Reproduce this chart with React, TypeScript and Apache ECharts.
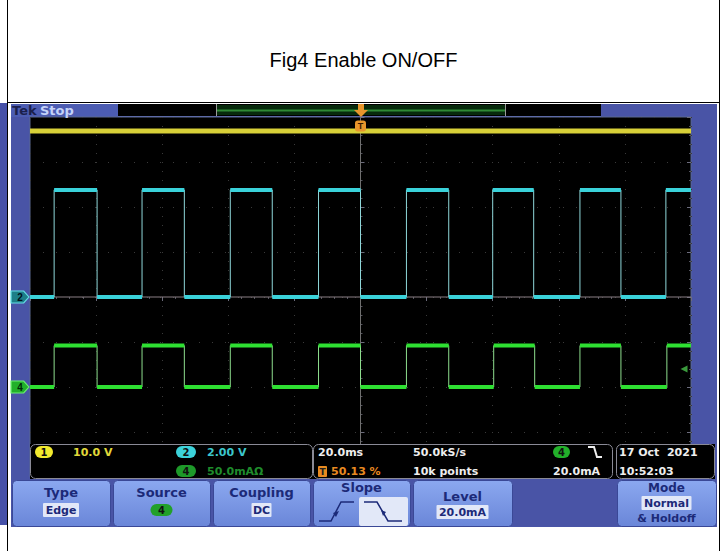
import React, { useEffect, useRef } from "react";
import * as echarts from "echarts";

// ---------------- data ----------------
const TIME_RANGE_MS = [-100, 100]; // 20.0 ms/div, 10 divisions, trigger at centre
const DIV_RANGE = [-4, 4]; // 8 vertical divisions

const CH1_LEVEL_V = [36.9];
const CH2_EDGES_MS = [-92.7, -79.7, -66.1, -53.3, -39.4, -26.7, -12.7, 0.0, 13.9, 26.7, 40.0, 52.4, 66.4, 78.8, 92.4];
const CH2_LEVELS_V = [0.0, 4.76]; // low, high
const CH4_EDGES_MS = [-92.7, -79.7, -66.1, -53.3, -39.4, -26.7, -12.7, 0.0, 13.9, 26.7, 40.3, 52.7, 66.4, 78.8, 92.7];
const CH4_LEVELS_MA = [0.0, 46.0]; // low, high

const CH_SCALE_PER_DIV = [10, 2, 50]; // CH1 V, CH2 V, CH4 mA
const CH_POSITION_DIV = [0, 0, -2];
const TRIGGER_LEVEL_MA = [20];

const READOUT_LABELS = ["10.0 V", "2.00 V", "50.0mAΩ", "20.0ms", "50.13 %", "50.0kS/s", "10k points", "20.0mA", "17 Oct  2021", "10:52:03"];
const BUTTON_LABELS = ["Type", "Source", "Coupling", "Slope", "Level", "Mode"];
const BUTTON_VALUES = ["Edge", "4", "DC", "", "20.0mA", "Normal"];

// ---------------- helpers ----------------
const toDiv = (ch: number) => (v: number) => v / CH_SCALE_PER_DIV[ch] + CH_POSITION_DIV[ch];

function stepTrace(edges: number[], levels: number[], conv: (v: number) => number) {
  const [t0, t1] = TIME_RANGE_MS;
  let s = 0;
  const pts: any[] = [[t0, conv(levels[s])]];
  edges.forEach((e) => {
    pts.push([e, conv(levels[s])]);
    s = 1 - s;
    pts.push([e, conv(levels[s])]);
  });
  pts.push([t1, conv(levels[s])]);
  return pts;
}

function levelSegments(edges: number[], levels: number[], conv: (v: number) => number) {
  const [t0, t1] = TIME_RANGE_MS;
  const b = [t0, ...edges, t1];
  const pts: any[] = [];
  for (let i = 0; i < b.length - 1; i++) {
    const v = conv(levels[i % 2]);
    pts.push([b[i], v], [b[i + 1], v]);
    if (i < b.length - 2) pts.push([b[i + 1], "-"]);
  }
  return pts;
}

const FONT = '"DejaVu Sans", Verdana, sans-serif';

function txt(x: number, y: number, text: string, fill: string, size = 11, align = "left", weight = "bold", z = 120) {
  return {
    type: "text",
    x,
    y,
    z,
    style: {
      text,
      fill,
      font: `${weight} ${size}px ${FONT}`,
      align,
      verticalAlign: "middle",
      textAlign: align,
      textVerticalAlign: "middle",
    },
  };
}

function rect(x: number, y: number, w: number, h: number, fill: any, z = 100, r = 0, stroke?: string) {
  return {
    type: "rect",
    z,
    shape: { x, y, width: w, height: h, r },
    style: stroke ? { fill, stroke, lineWidth: 1 } : { fill },
  };
}

function pill(x: number, y: number, w: number, h: number, fill: string, label: string, color = "#111") {
  return [rect(x, y, w, h, fill, 115, h / 2), txt(x + w / 2, y + h / 2 + 0.5, label, color, 10, "center")];
}

function line(x1: number, y1: number, x2: number, y2: number, stroke: string, z = 130, w = 1) {
  return { type: "line", z, shape: { x1, y1, x2, y2 }, style: { stroke, lineWidth: w } };
}

export default function App() {
  const ref = useRef<HTMLDivElement>(null);

  useEffect(() => {
    document.body.style.margin = "0";
    if (!ref.current) return;
    const chart = echarts.init(ref.current, undefined, { renderer: "svg" });

    const c1 = toDiv(0);
    const c2 = toDiv(1);
    const c4 = toDiv(2);
    const [t0, t1] = TIME_RANGE_MS;

    const BLUE = "#4954a6";
    const btnFill = {
      type: "linear",
      x: 0,
      y: 0,
      x2: 0,
      y2: 1,
      colorStops: [
        { offset: 0, color: "#8ba8f0" },
        { offset: 1, color: "#6a86d8" },
      ],
    };
    const NAVY = "#1c2a78";
    const HILITE = "#e2e8f8";

    const buttons = [
      { x: 12, w: 98 },
      { x: 113, w: 97 },
      { x: 213, w: 97 },
      { x: 313, w: 97 },
      { x: 413, w: 99 },
      { x: 617, w: 99 },
    ];

    const graphic: any[] = [
      // table lines
      line(7.5, 0, 7.5, 551, "#000", 200),
      line(719.5, 0, 719.5, 551, "#000", 200),
      line(7.5, 102.5, 719.5, 102.5, "#000", 200),
      // neighbouring image strip at left
      rect(0, 103, 7, 422, "#4651a8", -100),
      // scope background
      rect(11, 104, 706, 423, BLUE, -100),
      // top bar
      rect(11, 104, 107, 13, "#4c5cb2", -90),
      txt(12, 110.5, "Tek", "#1a1f4c", 13, "left", "bold", 130),
      txt(40, 110.5, "Stop", "#c4d2f8", 13, "left", "bold", 130),
      rect(118, 104, 483, 12, "#000", 100),
      rect(216, 105, 289, 10, "#072a0c", 101),
      line(216, 110.5, 505, 110.5, "#2f8a34", 102, 2),
      line(216.5, 104, 216.5, 117, "#9a9a9a", 103),
      line(505.5, 104, 505.5, 117, "#9a9a9a", 103),
      line(118, 116.5, 601, 116.5, "#5d6aa8", 103),
      rect(358, 104, 6, 6, "#e8962c", 104),
      { type: "polygon", z: 104, shape: { points: [[354, 110], [368, 110], [361, 117]] }, style: { fill: "#e8962c" } },
      // readout area
      rect(30, 444, 685, 35, "#000", 100),
      rect(30.5, 444.5, 282, 34, "#000", 101, 5, "#8a8a96"),
      rect(313.5, 444.5, 299, 34, "#000", 101, 5, "#8a8a96"),
      rect(616.5, 444.5, 98, 34, "#000", 101, 5, "#8a8a96"),
      ...pill(35, 446, 18, 12, "#f2ea2e", "1"),
      txt(73, 452.5, READOUT_LABELS[0], "#e0d83a"),
      ...pill(176, 446, 20, 12, "#3cd2da", "2"),
      txt(207, 452.5, READOUT_LABELS[1], "#3cc6cc"),
      ...pill(176, 465, 20, 12, "#1e9a2a", "4"),
      txt(207, 471.5, READOUT_LABELS[2], "#1f8c2c"),
      txt(318, 452.5, READOUT_LABELS[3], "#eeeeee"),
      rect(318, 466, 9, 11, "#e88a20", 115, 1),
      txt(322.5, 471.5, "T", "#222", 9, "center"),
      txt(331, 471.5, READOUT_LABELS[4], "#e88a20"),
      txt(413, 452.5, READOUT_LABELS[5], "#eeeeee"),
      txt(413, 471.5, READOUT_LABELS[6], "#eeeeee"),
      ...pill(553, 446, 17, 12, "#22b02a", "4"),
      { type: "polyline", z: 130, shape: { points: [[588, 447], [594, 447], [597, 457], [602, 457]] }, style: { stroke: "#eeeeee", lineWidth: 2, fill: "none" } },
      txt(553, 471.5, READOUT_LABELS[7], "#eeeeee"),
      txt(619, 452.5, READOUT_LABELS[8], "#eeeeee"),
      txt(619, 471.5, READOUT_LABELS[9], "#eeeeee"),
    ];

    // buttons
    buttons.forEach((b, i) => {
      graphic.push(rect(b.x + 0.5, 480.5, b.w, 46, btnFill, 100, 4, "#3a4896"));
      const cx = b.x + b.w / 2;
      if (i === 0 || i === 2) {
        graphic.push(txt(cx, 492, BUTTON_LABELS[i], NAVY, 13, "center"));
        const vw = BUTTON_VALUES[i].length * 8 + 4;
        graphic.push(rect(cx - vw / 2, 503, vw, 14, HILITE, 110, 1));
        graphic.push(txt(cx, 510.5, BUTTON_VALUES[i], NAVY, 11, "center"));
      } else if (i === 1) {
        graphic.push(txt(cx, 492, BUTTON_LABELS[i], NAVY, 13, "center"));
        graphic.push(...pill(cx - 11, 504, 22, 12, "#22a02a", BUTTON_VALUES[i]));
      } else if (i === 3) {
        graphic.push(txt(cx, 487, BUTTON_LABELS[i], NAVY, 13, "center"));
        graphic.push({ type: "polyline", z: 120, shape: { points: [[319, 521], [331, 521], [341, 502], [354, 502]] }, style: { stroke: NAVY, lineWidth: 1.5, fill: "none" } });
        graphic.push({ type: "polygon", z: 121, shape: { points: [[333, 513], [339, 511], [336, 517]] }, style: { fill: NAVY } });
        graphic.push(rect(359, 497, 49, 29, HILITE, 110, 2));
        graphic.push({ type: "polyline", z: 120, shape: { points: [[364, 502], [377, 502], [388, 521], [402, 521]] }, style: { stroke: NAVY, lineWidth: 1.5, fill: "none" } });
        graphic.push({ type: "polygon", z: 121, shape: { points: [[381, 510], [386, 512], [383, 516]] }, style: { fill: NAVY } });
      } else if (i === 4) {
        graphic.push(txt(cx, 496, BUTTON_LABELS[i], NAVY, 13, "center"));
        graphic.push(rect(cx - 26, 505, 52, 14, HILITE, 110, 1));
        graphic.push(txt(cx, 512.5, BUTTON_VALUES[i], NAVY, 11, "center"));
      } else {
        graphic.push(txt(cx, 488, BUTTON_LABELS[i], NAVY, 12, "center"));
        graphic.push(rect(cx - 25, 496, 50, 14, HILITE, 110, 1));
        graphic.push(txt(cx, 503.5, BUTTON_VALUES[i], NAVY, 11, "center"));
        graphic.push(txt(cx, 518.5, "& Holdoff", NAVY, 11, "center"));
      }
    });

    const axisCommon = {
      type: "value",
      axisLabel: { show: false },
      axisLine: { show: false },
      axisTick: { show: true, inside: true, length: 4, lineStyle: { color: "#6c6c7c" } },
      minorTick: { show: true, splitNumber: 5, length: 2, lineStyle: { color: "#55555f" } },
    };

    const option: any = {
      animation: false,
      backgroundColor: "#fff",
      title: {
        text: "Fig4 Enable ON/OFF",
        left: "center",
        top: 45,
        textStyle: { fontFamily: '"Liberation Sans", Arial, sans-serif', fontSize: 20, fontWeight: "normal", color: "#000" },
      },
      grid: { left: 30, top: 117, width: 661, height: 360, show: true, backgroundColor: "#000", borderColor: "#5b6890", borderWidth: 1 },
      xAxis: {
        ...axisCommon,
        min: TIME_RANGE_MS[0],
        max: TIME_RANGE_MS[1],
        interval: 20,
        position: "top",
        splitLine: { show: true, lineStyle: { color: "#3a3a3a", type: [1, 8] } },
      },
      yAxis: [
        {
          ...axisCommon,
          min: DIV_RANGE[0],
          max: DIV_RANGE[1],
          interval: 1,
          position: "left",
          splitLine: { show: true, lineStyle: { color: "#3a3a3a", type: [1, 12] } },
        },
        {
          ...axisCommon,
          min: DIV_RANGE[0],
          max: DIV_RANGE[1],
          interval: 1,
          position: "right",
          splitLine: { show: false },
        },
      ],
      series: [
        {
          type: "line",
          data: [[t0, 0], [t1, 0]],
          symbol: "none",
          silent: true,
          lineStyle: { color: "#8a7f84", width: 1 },
          z: 1,
        },
        {
          type: "line",
          data: [[0, DIV_RANGE[0]], [0, DIV_RANGE[1]]],
          symbol: "none",
          silent: true,
          lineStyle: { color: "#6f6f6f", width: 1 },
          z: 1,
        },
        {
          type: "line",
          data: [[t0, c1(CH1_LEVEL_V[0])], [t1, c1(CH1_LEVEL_V[0])]],
          symbol: "none",
          lineStyle: { color: "#d8d038", width: 5 },
          z: 3,
          markPoint: {
            silent: true,
            data: [
              {
                coord: [0, DIV_RANGE[1]],
                symbol: "roundRect",
                symbolSize: [11, 11],
                symbolOffset: [0, 9],
                itemStyle: { color: "#e8962c" },
                label: { show: true, position: "inside", formatter: "T", color: "#3a1a00", fontSize: 9, fontWeight: "bold" },
              },
            ],
          },
        },
        {
          type: "line",
          data: stepTrace(CH2_EDGES_MS, CH2_LEVELS_V, c2),
          symbol: "none",
          lineStyle: { color: "#8fd8da", width: 1 },
          z: 3,
        },
        {
          type: "line",
          data: levelSegments(CH2_EDGES_MS, CH2_LEVELS_V, c2),
          symbol: "none",
          connectNulls: false,
          lineStyle: { color: "#3ad2da", width: 4 },
          z: 4,
          markPoint: {
            silent: true,
            data: [
              {
                coord: [t0, CH_POSITION_DIV[1]],
                symbol: "path://M0,0 L14,0 L20,6 L14,12 L0,12 Z",
                symbolSize: [18, 12],
                symbolOffset: [-10, 0],
                itemStyle: { color: "#1d7f88", borderColor: "#66e0e6", borderWidth: 1 },
                label: { show: true, position: "inside", formatter: "2", color: "#001018", fontSize: 10, fontWeight: "bold" },
              },
            ],
          },
        },
        {
          type: "line",
          data: stepTrace(CH4_EDGES_MS, CH4_LEVELS_MA, c4),
          symbol: "none",
          lineStyle: { color: "#8ede8e", width: 1 },
          z: 3,
        },
        {
          type: "line",
          data: levelSegments(CH4_EDGES_MS, CH4_LEVELS_MA, c4),
          symbol: "none",
          connectNulls: false,
          lineStyle: { color: "#2ee032", width: 4 },
          z: 4,
          markPoint: {
            silent: true,
            data: [
              {
                coord: [t0, CH_POSITION_DIV[2]],
                symbol: "path://M0,0 L14,0 L20,6 L14,12 L0,12 Z",
                symbolSize: [18, 12],
                symbolOffset: [-10, 0],
                itemStyle: { color: "#22b02a", borderColor: "#6cf070", borderWidth: 1 },
                label: { show: true, position: "inside", formatter: "4", color: "#002a05", fontSize: 10, fontWeight: "bold" },
              },
              {
                coord: [t1, c4(TRIGGER_LEVEL_MA[0])],
                symbol: "triangle",
                symbolRotate: 90,
                symbolSize: [7, 7],
                symbolOffset: [-7, 0],
                itemStyle: { color: "#3a9a3c" },
                label: { show: false },
              },
            ],
          },
        },
      ],
      graphic,
    };

    chart.setOption(option);
    return () => chart.dispose();
  }, []);

  return <div ref={ref} style={{ width: 727, height: 551 }} />;
}
